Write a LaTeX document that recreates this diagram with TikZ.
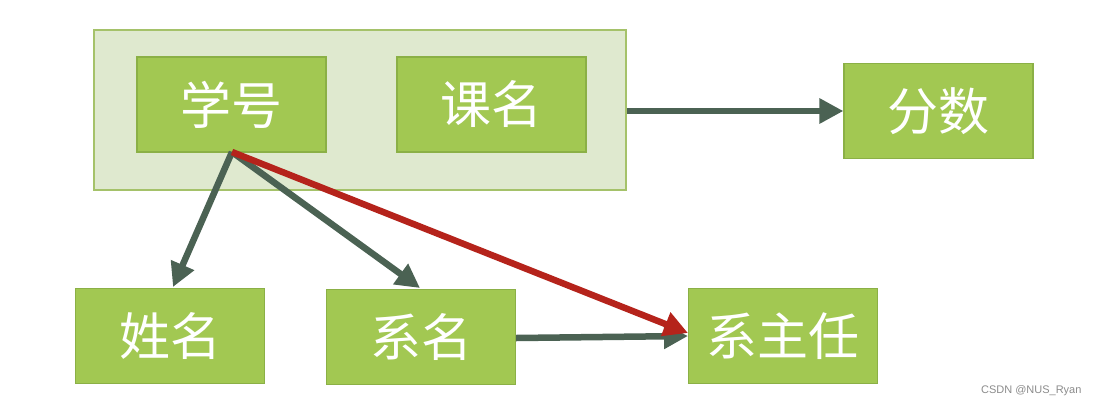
\documentclass[tikz,border=0pt]{standalone}
\usepackage{fontspec}
\newfontfamily\cjk{Noto Sans CJK SC}
\setmainfont{Liberation Sans}
\usetikzlibrary{arrows.meta}
\definecolor{boxfill}{HTML}{A2C852}
\definecolor{boxline}{HTML}{8BB046}
\definecolor{outerfill}{HTML}{DFE9CF}
\definecolor{outerline}{HTML}{A5C26A}
\definecolor{arrowdark}{HTML}{4B6253}
\definecolor{arrowred}{HTML}{B5231B}
\tikzset{
  greenbox/.style={draw=boxline, line width=1.2pt, fill=boxfill, minimum width=189pt, minimum height=95pt, inner sep=0pt, text=white, font=\cjk\fontsize{51}{55}\selectfont},
  outerbox/.style={draw=outerline, line width=1.5pt, fill=outerfill, minimum width=532pt, minimum height=160pt, inner sep=0pt},
  darkarrow/.style={draw=arrowdark, line width=6.5pt, -{Triangle[width=24pt,length=24pt]}},
  redarrow/.style={draw=arrowred, line width=6.5pt, -{Triangle[width=24pt,length=24pt]}},
}
\begin{document}
\begin{tikzpicture}[x=1pt,y=-1pt]
\useasboundingbox[fill=white] (0,0) rectangle (1098,408);
\node[outerbox] (outer) at (360,110) {};
\node[greenbox] (xh) at (231.5,104.5) {学号};
\node[greenbox] (km) at (491.5,104.5) {课名};
\node[greenbox] (fs) at (938.5,111) {分数};
\node[greenbox] (xm) at (170,336) {姓名};
\node[greenbox] (xim) at (421,337) {系名};
\node[greenbox] (xzr) at (783,336) {系主任};
\coordinate (src) at (232,152);
\coordinate (e1) at (173,287);
\coordinate (e2) at (420,288);
\coordinate (e3) at (688,333);
\draw[darkarrow] (outer.east |- 0,111) -- (fs.west |- 0,111);
\draw[darkarrow] (src) -- (e1);
\draw[darkarrow] (src) -- (e2);
\draw[darkarrow] (xim.east |- 0,338) -- (688,336);
\draw[redarrow] (src) -- (e3);
\node[text=gray!90, font=\fontsize{11}{13}\selectfont, anchor=east] (wm) at (1085,391) {CSDN @NUS\_Ryan};
\end{tikzpicture}
\end{document}
